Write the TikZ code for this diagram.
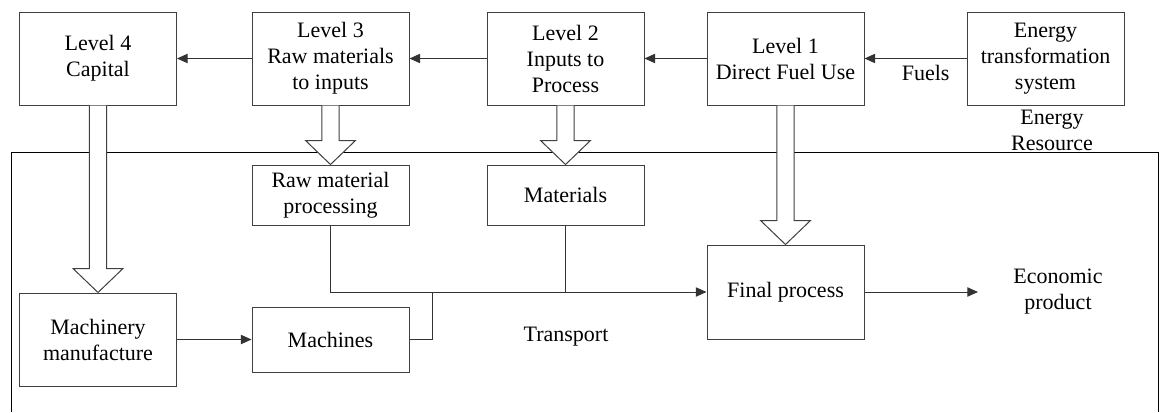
\documentclass[tikz,border=0pt]{standalone}
\usepackage{fontspec}
\setmainfont{Liberation Serif}
\usetikzlibrary{positioning, calc, arrows.meta}

% hollow block arrow from the bottom of one box down to the top of another
\newcommand{\fatarrow}[2]{%
  \draw[fat] let \p1=(#1), \p2=(#2) in
    (\x1-6.4pt,\y1) -- (\x1-6.4pt,\y2+18pt) -- (\x1-18.75pt,\y2+18pt) -- (\x1,\y2)
    -- (\x1+18.75pt,\y2+18pt) -- (\x1+6.4pt,\y2+18pt) -- (\x1+6.4pt,\y1);}

\begin{document}
\begin{tikzpicture}[x=0.75pt, y=0.75pt, font=\fontsize{16.5}{19.5}\selectfont,
  box/.style={draw=black!75, line width=0.75pt, fill=white, align=center, minimum width=117.75pt, inner sep=2pt},
  arr/.style={-{Triangle[length=8pt,width=7pt]}, draw=black!80, line width=0.75pt},
  fat/.style={draw=black!75, line width=0.75pt, fill=white},
  frame/.style={draw=black, line width=0.75pt},
  lbl/.style={align=center, inner sep=0pt}]
  \useasboundingbox (0,0) rectangle (1160,412);

  % top row: the four levels and the energy side
  \node[box, minimum height=69.75pt] (lvl4) at (98,353.5) {Level 4\\Capital};
  \node[box, minimum height=69.75pt] (lvl3) at (330.5,353.5) {Level 3\\Raw materials\\to inputs};
  \node[box, minimum height=69.75pt] (lvl2) at (565.5,353.5) {Level 2\\Inputs to\\Process};
  \node[box, minimum height=69.75pt] (lvl1) at (785.5,353.5) {Level 1\\Direct Fuel Use};
  \node[box, minimum height=69.75pt] (ets) at (1045.5,353.5) {Energy\\transformation\\system};
  \node[lbl] (res) at (1052,282) {Energy\\Resource};

  % economy below
  \node[box, minimum height=45pt] (raw) at (330.5,217) {Raw material\\processing};
  \node[box, minimum height=45pt] (mat) at (565.5,217) {Materials};
  \node[box, minimum height=70.5pt] (final) at (785.5,120) {Final process};
  \node[box, minimum height=69.75pt] (mfg) at (98,72.5) {Machinery\\manufacture};
  \node[box, minimum height=48.75pt] (mach) at (330.5,72.5) {Machines};
  \node[lbl] (econ) at (1058,120) {Economic\\product};
  \node[lbl] (trans) at (566,75) {Transport};
  \coordinate (jt) at (432,120);
  \coordinate (prod) at (978,120);

  % open frame of the economy
  \draw[frame] (11,0) |- (1158,260) -- (1158,0);

  % flows along the top
  \draw[arr] (ets.west) -- node[pos=0.4, below=5pt, inner sep=0pt] {Fuels} (lvl1.east);
  \draw[arr] (lvl1.west) -- (lvl2.east);
  \draw[arr] (lvl2.west) -- (lvl3.east);
  \draw[arr] (lvl3.west) -- (lvl4.east);

  % block arrows into the economy
  \fatarrow{lvl4.south}{mfg.north}
  \fatarrow{lvl3.south}{raw.north}
  \fatarrow{lvl2.south}{mat.north}
  \fatarrow{lvl1.south}{final.north}

  % transport to the final process
  \draw[arr] (mfg.east) -- (mach.west);
  \draw[arr] (raw.south) |- (final.west);
  \draw[draw=black!80, line width=0.75pt] (mat.south) -- (mat.south |- final.west);
  \draw[draw=black!80, line width=0.75pt] (mach.east) -| (jt);
  \draw[arr] (final.east) -- (prod);
\end{tikzpicture}
\end{document}
